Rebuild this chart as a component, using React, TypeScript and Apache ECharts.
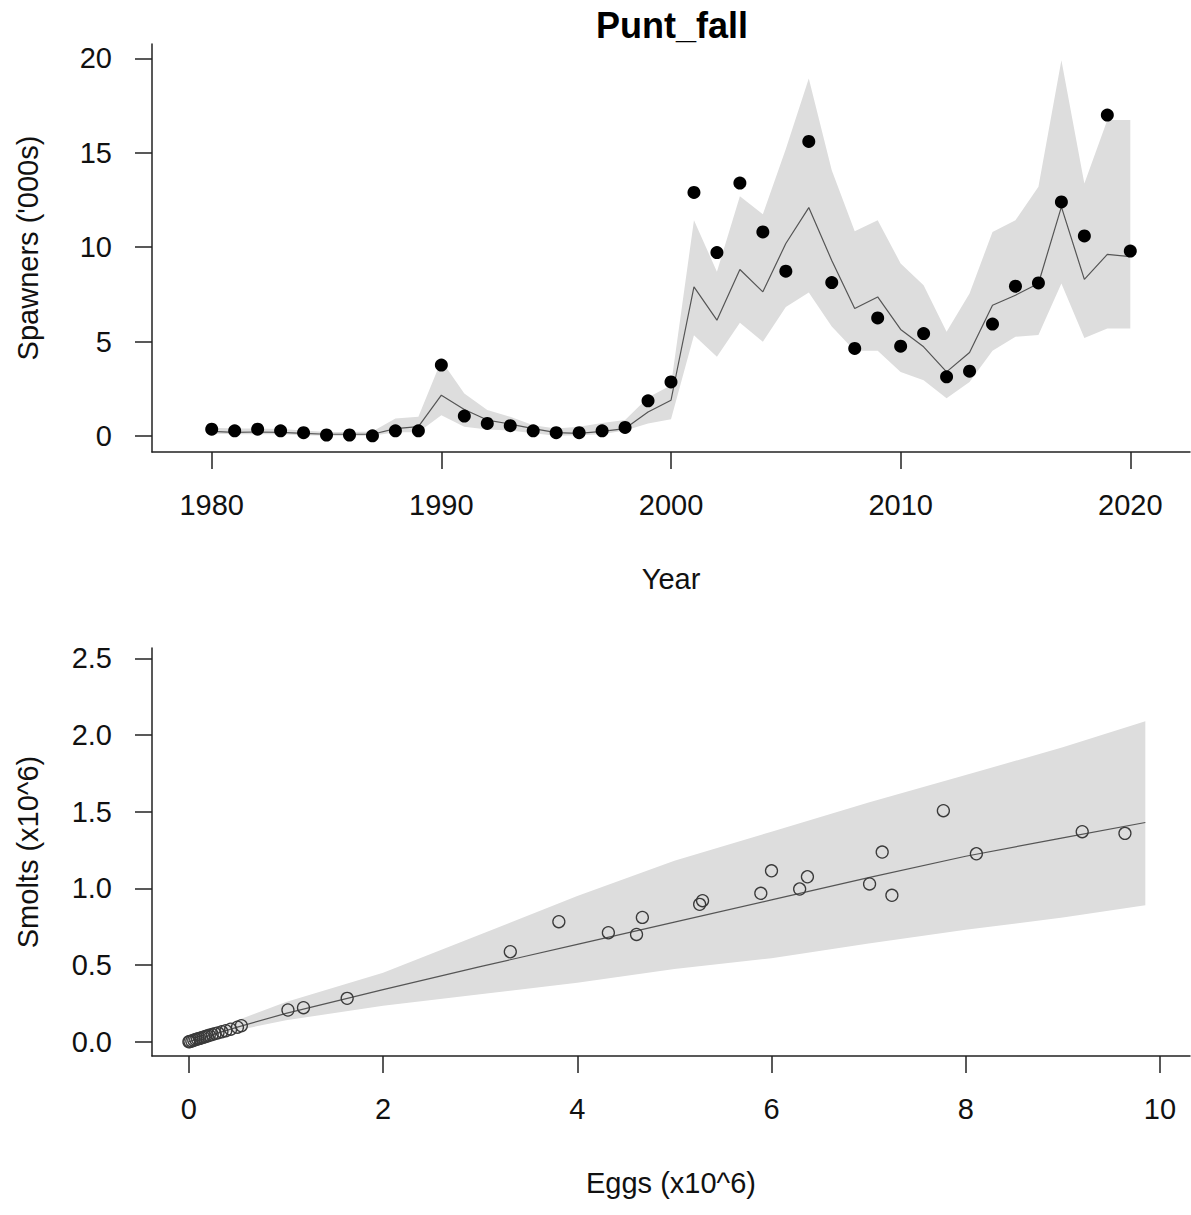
import React, { useEffect, useRef } from "react";
import * as echarts from "echarts";

// ---------- Top panel: spawners by year ----------
const years: number[] = [
  1980, 1981, 1982, 1983, 1984, 1985, 1986, 1987, 1988, 1989,
  1990, 1991, 1992, 1993, 1994, 1995, 1996, 1997, 1998, 1999,
  2000, 2001, 2002, 2003, 2004, 2005, 2006, 2007, 2008, 2009,
  2010, 2011, 2012, 2013, 2014, 2015, 2016, 2017, 2018, 2019, 2020,
];
const spawnersObs: number[] = [
  0.37, 0.28, 0.37, 0.28, 0.18, 0.06, 0.06, 0.02, 0.28, 0.28,
  3.76, 1.06, 0.67, 0.55, 0.28, 0.18, 0.18, 0.28, 0.46, 1.87,
  2.87, 12.9, 9.72, 13.4, 10.81, 8.73, 15.6, 8.13, 4.64, 6.26,
  4.76, 5.43, 3.14, 3.44, 5.93, 7.94, 8.11, 12.4, 10.6, 17.0, 9.8,
];
const spawnersMed: number[] = [
  0.25, 0.2, 0.22, 0.2, 0.15, 0.1, 0.1, 0.1, 0.4, 0.5,
  2.17, 1.41, 0.85, 0.64, 0.4, 0.19, 0.15, 0.25, 0.4, 1.28,
  1.9, 7.9, 6.14, 8.82, 7.64, 10.2, 12.1, 9.3, 6.76, 7.37,
  5.65, 4.73, 3.4, 4.43, 6.93, 7.46, 8.08, 12.14, 8.3, 9.62, 9.5,
];
const spawnersLo: number[] = [
  0.12, 0.1, 0.1, 0.1, 0.05, 0.02, 0.02, 0.02, 0.2, 0.2,
  1.11, 0.5, 0.35, 0.3, 0.15, 0.02, 0.05, 0.1, 0.3, 0.67,
  0.9, 5.34, 4.2, 6.0, 5.0, 6.84, 7.6, 5.8, 4.52, 4.52,
  3.4, 2.96, 2.0, 2.87, 4.52, 5.26, 5.35, 8.08, 5.2, 5.7, 5.7,
];
const spawnersHi: number[] = [
  0.45, 0.4, 0.4, 0.38, 0.3, 0.22, 0.22, 0.25, 0.93, 1.02,
  4.0, 2.26, 1.38, 1.02, 0.58, 0.4, 0.5, 0.7, 0.85, 2.05,
  2.7, 11.43, 8.7, 12.7, 11.75, 15.2, 18.94, 14.08, 10.85, 11.43,
  9.14, 7.99, 5.52, 7.55, 10.81, 11.43, 13.2, 19.9, 13.38, 16.73, 16.73,
];
const yearTicks: number[] = [1980, 1990, 2000, 2010, 2020];
const spawnerTicks: number[] = [0, 5, 10, 15, 20];

// ---------- Bottom panel: smolts vs eggs ----------
const eggsObs: number[] = [
  0.0, 0.01, 0.03, 0.05, 0.07, 0.09, 0.11, 0.13, 0.15, 0.17,
  0.19, 0.21, 0.24, 0.27, 0.3, 0.34, 0.38, 0.43, 0.5, 0.54,
  1.02, 1.18, 1.63, 3.31, 3.81, 4.32, 4.61, 4.67, 5.26, 5.29,
  5.89, 6.0, 6.29, 6.37, 7.01, 7.14, 7.24, 7.77, 8.11, 9.2, 9.64,
];
const smoltsObs: number[] = [
  0.0, 0.002, 0.005, 0.01, 0.014, 0.018, 0.022, 0.026, 0.03, 0.034,
  0.038, 0.042, 0.047, 0.053, 0.058, 0.065, 0.072, 0.082, 0.095, 0.105,
  0.207, 0.222, 0.283, 0.587, 0.783, 0.711, 0.7, 0.811, 0.896, 0.92,
  0.968, 1.115, 0.996, 1.076, 1.029, 1.237, 0.955, 1.507, 1.226, 1.37, 1.359,
];
const eggsCurve: number[] = [0, 0.5, 1, 2, 3, 4, 5, 6, 7, 8, 9, 9.85];
const smoltsMed: number[] = [0, 0.095, 0.185, 0.34, 0.49, 0.635, 0.78, 0.925, 1.07, 1.21, 1.33, 1.43];
const smoltsLo: number[] = [0, 0.075, 0.14, 0.235, 0.31, 0.385, 0.475, 0.545, 0.64, 0.73, 0.81, 0.89];
const smoltsHi: number[] = [0, 0.14, 0.26, 0.45, 0.7, 0.95, 1.18, 1.37, 1.56, 1.74, 1.92, 2.09];
const eggTicks: number[] = [0, 2, 4, 6, 8, 10];
const smoltTicks: number[] = [0, 0.5, 1, 1.5, 2, 2.5];

const FONT = "'Liberation Sans', Arial, sans-serif";
const AXIS_COLOR = "#222";
const TEXT_COLOR = "#111";
const BAND_COLOR = "#dddddd";
const FS = 29;

function bandSeries(xs: number[], lo: number[], hi: number[], axisIndex: number) {
  return {
    type: "custom",
    xAxisIndex: axisIndex,
    yAxisIndex: axisIndex,
    silent: true,
    clip: true,
    z: 1,
    data: xs.map((x, i) => [x, lo[i], hi[i]]),
    encode: { x: 0, y: [1, 2] },
    renderItem: (params: any, api: any) => {
      if (params.dataIndex !== 0) return null;
      const top = xs.map((x, i) => api.coord([x, hi[i]]));
      const bottom = xs.map((x, i) => api.coord([x, lo[i]])).reverse();
      return {
        type: "polygon",
        shape: { points: top.concat(bottom) },
        style: { fill: BAND_COLOR, stroke: "none" },
      };
    },
  };
}

function xAxisCfg(grid: number, min: number, max: number, ticks: number[], name: string, fmt: (v: number) => string) {
  return {
    type: "value",
    gridIndex: grid,
    min,
    max,
    name,
    nameLocation: "middle",
    nameGap: 112,
    nameTextStyle: { fontSize: FS, color: TEXT_COLOR, fontFamily: FONT },
    axisLine: { show: true, onZero: false, lineStyle: { color: AXIS_COLOR, width: 1.5 } },
    axisTick: { show: true, length: 17, customValues: ticks, lineStyle: { color: AXIS_COLOR, width: 1.5 } },
    axisLabel: {
      show: true,
      customValues: ticks,
      margin: 38,
      fontSize: FS,
      color: TEXT_COLOR,
      fontFamily: FONT,
      formatter: (v: number) => fmt(v),
    },
    splitLine: { show: false },
  };
}

function yAxisCfg(grid: number, min: number, max: number, ticks: number[], name: string, fmt: (v: number) => string) {
  return {
    type: "value",
    gridIndex: grid,
    min,
    max,
    name,
    nameLocation: "middle",
    nameGap: 110,
    nameTextStyle: { fontSize: FS, color: TEXT_COLOR, fontFamily: FONT },
    axisLine: { show: true, onZero: false, lineStyle: { color: AXIS_COLOR, width: 1.5 } },
    axisTick: { show: true, length: 17, customValues: ticks, lineStyle: { color: AXIS_COLOR, width: 1.5 } },
    axisLabel: {
      show: true,
      customValues: ticks,
      margin: 40,
      fontSize: FS,
      color: TEXT_COLOR,
      fontFamily: FONT,
      formatter: (v: number) => fmt(v),
    },
    splitLine: { show: false },
  };
}

export default function App() {
  const ref = useRef<HTMLDivElement>(null);

  useEffect(() => {
    if (!ref.current) return;
    const chart = echarts.init(ref.current, null, { renderer: "svg" });
    const option = {
      animation: false,
      backgroundColor: "#ffffff",
      title: {
        text: "Punt_fall",
        left: 667,
        top: 2,
        textAlign: "center",
        textStyle: { fontSize: 36, fontWeight: "bold", color: "#000", fontFamily: FONT },
      },
      grid: [
        { left: 152, top: 44, width: 1038, height: 408, containLabel: false },
        { left: 152, top: 648, width: 1038, height: 408, containLabel: false },
      ],
      xAxis: [
        xAxisCfg(0, 1977.4, 2022.6, yearTicks, "Year", (v) => String(v)),
        xAxisCfg(1, -0.38, 10.31, eggTicks, "Eggs (x10^6)", (v) => String(v)),
      ],
      yAxis: [
        yAxisCfg(0, -0.84, 20.76, spawnerTicks, "Spawners ('000s)", (v) => String(v)),
        yAxisCfg(1, -0.093, 2.568, smoltTicks, "Smolts (x10^6)", (v) => v.toFixed(1)),
      ],
      series: [
        bandSeries(years, spawnersLo, spawnersHi, 0),
        {
          type: "line",
          xAxisIndex: 0,
          yAxisIndex: 0,
          data: years.map((y, i) => [y, spawnersMed[i]]),
          showSymbol: false,
          symbol: "none",
          lineStyle: { color: "#555", width: 1.2 },
          z: 2,
          silent: true,
        },
        {
          type: "scatter",
          xAxisIndex: 0,
          yAxisIndex: 0,
          data: years.map((y, i) => [y, spawnersObs[i]]),
          symbol: "circle",
          symbolSize: 13,
          itemStyle: { color: "#000", opacity: 1 },
          z: 3,
          silent: true,
        },
        bandSeries(eggsCurve, smoltsLo, smoltsHi, 1),
        {
          type: "line",
          xAxisIndex: 1,
          yAxisIndex: 1,
          data: eggsCurve.map((e, i) => [e, smoltsMed[i]]),
          showSymbol: false,
          symbol: "none",
          lineStyle: { color: "#555", width: 1.2 },
          z: 2,
          silent: true,
        },
        {
          type: "scatter",
          xAxisIndex: 1,
          yAxisIndex: 1,
          data: eggsObs.map((e, i) => [e, smoltsObs[i]]),
          symbol: "circle",
          symbolSize: 12,
          itemStyle: { color: "rgba(0,0,0,0)", borderColor: "#3a3a3a", borderWidth: 1.3, opacity: 1 },
          z: 3,
          silent: true,
        },
      ],
    };
    chart.setOption(option as any);
    return () => {
      chart.dispose();
    };
  }, []);

  return (
    <div
      ref={ref}
      style={{ position: "absolute", left: 0, top: 0, width: 1191, height: 1215, background: "#fff" }}
    />
  );
}
